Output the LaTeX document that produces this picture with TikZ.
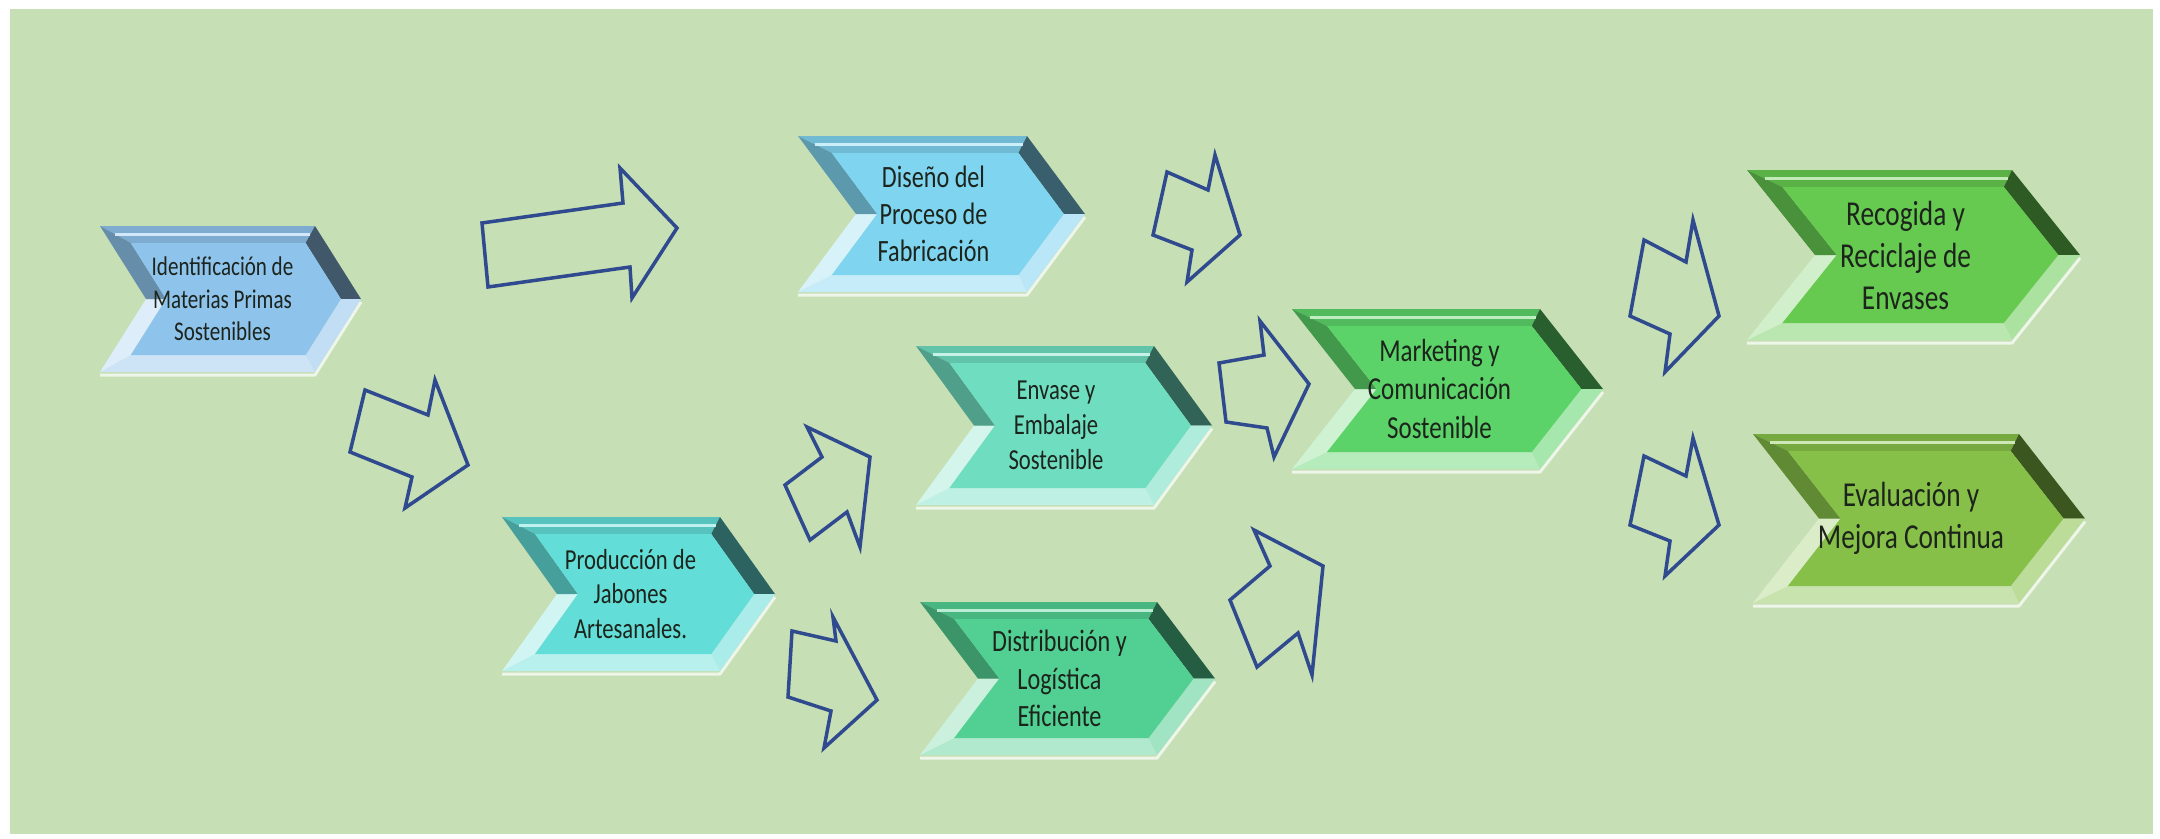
\documentclass[tikz,border=0pt]{standalone}
\usepackage{fontspec}
\newfontfamily\chevfont[FakeStretch=0.78]{Carlito}
\definecolor{bgc}{HTML}{C6DFB4}
\definecolor{arrc}{HTML}{2F4A8E}
\definecolor{txtc}{HTML}{1C241C}
\definecolor{cIdent}{HTML}{8EC3EC}
\definecolor{cDis}{HTML}{7FD4F0}
\definecolor{cEnv}{HTML}{6EDDC0}
\definecolor{cProd}{HTML}{62DDD8}
\definecolor{cDist}{HTML}{52CF92}
\definecolor{cMkt}{HTML}{5CD368}
\definecolor{cRec}{HTML}{66CA50}
\definecolor{cEval}{HTML}{86C048}
\tikzset{
  blockarrow/.style={draw=arrc, line width=3.5pt, line join=miter, fill=none},
  chevlabel/.style={text=txtc, align=center, inner sep=0pt}
}
% #1 name, #2 xL, #3 yT, #4 xR, #5 yB, #6 depth, #7 colour, #8 font size, #9 text
\newcommand\chevbox[9]{%
  \pgfmathsetmacro\chXl{#2}\pgfmathsetmacro\chYt{#3}%
  \pgfmathsetmacro\chXr{#4}\pgfmathsetmacro\chYb{#5}\pgfmathsetmacro\chD{#6}%
  \pgfmathsetmacro\chH{(\chYb-\chYt)/2}\pgfmathsetmacro\chYm{\chYt+\chH}%
  \pgfmathsetmacro\chK{\chD/\chH}\pgfmathsetmacro\chB{17}%
  \pgfmathsetmacro\chS{\chB*sqrt(1+\chK*\chK)}%
  \pgfmathsetmacro\chLs{#8*1.2}%
  \coordinate (#1-p1) at (\chXl,\chYt);
  \coordinate (#1-p2) at ({\chXr-\chD},\chYt);
  \coordinate (#1-p3) at (\chXr,\chYm);
  \coordinate (#1-p4) at ({\chXr-\chD},\chYb);
  \coordinate (#1-p5) at (\chXl,\chYb);
  \coordinate (#1-p6) at ({\chXl+\chD},\chYm);
  \coordinate (#1-q1) at ({\chXl+\chS+\chB*\chK},{\chYt+\chB});
  \coordinate (#1-q2) at ({\chXr-\chD-\chS+\chB*\chK},{\chYt+\chB});
  \coordinate (#1-q3) at ({\chXr-\chS},\chYm);
  \coordinate (#1-q4) at ({\chXr-\chD-\chS+\chB*\chK},{\chYb-\chB});
  \coordinate (#1-q5) at ({\chXl+\chS+\chB*\chK},{\chYb-\chB});
  \coordinate (#1-q6) at ({\chXl+\chD+\chS},\chYm);
  \draw[white!70!bgc, line width=3pt, line join=round] ([yshift=-3pt]#1-p3)--([yshift=-3pt]#1-p4)--([yshift=-3pt]#1-p5);
  \fill[#7!88!black] (#1-p1)--(#1-p2)--(#1-q2)--(#1-q1)--cycle;
  \fill[#7!45!black] (#1-p2)--(#1-p3)--(#1-q3)--(#1-q2)--cycle;
  \fill[#7!55!white] (#1-p3)--(#1-p4)--(#1-q4)--(#1-q3)--cycle;
  \fill[#7!45!white] (#1-p4)--(#1-p5)--(#1-q5)--(#1-q4)--cycle;
  \fill[#7!30!white] (#1-p5)--(#1-p6)--(#1-q6)--(#1-q5)--cycle;
  \fill[#7!72!black] (#1-p6)--(#1-p1)--(#1-q1)--(#1-q6)--cycle;
  \draw[#7!40!white, line width=3pt] ($(#1-p1)!0.5!(#1-q1)$)--($(#1-p2)!0.5!(#1-q2)$);
  \fill[#7] (#1-q1)--(#1-q2)--(#1-q3)--(#1-q4)--(#1-q5)--(#1-q6)--cycle;
  \node[chevlabel, font=\chevfont\fontsize{#8}{\chLs}\selectfont] (#1) at ({(\chXl+\chXr)/2-8},\chYm) {#9};
}
\usetikzlibrary{calc}
\begin{document}
\begin{tikzpicture}[x=1pt,y=-1pt]
\useasboundingbox (0,0) rectangle (2160,838);
\fill[white] (0,0) rectangle (2160,838);
\fill[bgc] (10,9) rectangle (2153,834);

\chevbox{ident}{100}{226}{361}{372}{46}{cIdent}{27}{Identificación de\\Materias Primas\\Sostenibles}
\chevbox{diseno}{798}{136}{1085}{292}{58}{cDis}{31}{Diseño del\\Proceso de\\Fabricación}
\chevbox{envase}{916}{346}{1212}{505}{58}{cEnv}{29}{Envase y\\Embalaje\\Sostenible}
\chevbox{prod}{502}{517}{775}{671}{55}{cProd}{29}{Producción de\\Jabones\\Artesanales.}
\chevbox{dist}{920}{602}{1215}{755}{58}{cDist}{31}{Distribución y\\Logística\\Eficiente}
\chevbox{mkt}{1292}{309}{1603}{469}{63}{cMkt}{32}{Marketing y\\Comunicación\\Sostenible}
\chevbox{rec}{1747}{170}{2080}{340}{68}{cRec}{35}{Recogida y\\Reciclaje de\\Envases}
\chevbox{eval}{1753}{434}{2085}{603}{66}{cEval}{35}{Evaluación y\\Mejora Continua}

% block arrows
\draw[blockarrow] (482,223)--(623,203)--(620,168)--(677,228)--(632,298)--(630,267)--(488,287)--cycle;
\draw[blockarrow] (365,390)--(428,415)--(435,380)--(468,465)--(405,508)--(412,477)--(350,452)--cycle;
\draw[blockarrow] (807,427)--(870,457)--(860,547)--(847,512)--(810,540)--(785,485)--(822,457)--cycle;
\draw[blockarrow] (792,631)--(836,641)--(833,617)--(877,700)--(824,748)--(831,711)--(788,697)--cycle;
\draw[blockarrow] (1167,172)--(1208,190)--(1215,155)--(1240,235)--(1187,282)--(1192,250)--(1153,235)--cycle;
\draw[blockarrow] (1219,363)--(1264,355)--(1260,321)--(1309,384)--(1274,457)--(1267,428)--(1226,422)--cycle;
\draw[blockarrow] (1254,530)--(1323,566)--(1312,675)--(1298,633)--(1257,667)--(1230,600)--(1270,566)--cycle;
\draw[blockarrow] (1644,240)--(1686,262)--(1693,220)--(1719,316)--(1665,372)--(1670,334)--(1630,316)--cycle;
\draw[blockarrow] (1644,456)--(1686,476)--(1693,438)--(1719,525)--(1665,576)--(1670,541)--(1630,525)--cycle;
\end{tikzpicture}
\end{document}
